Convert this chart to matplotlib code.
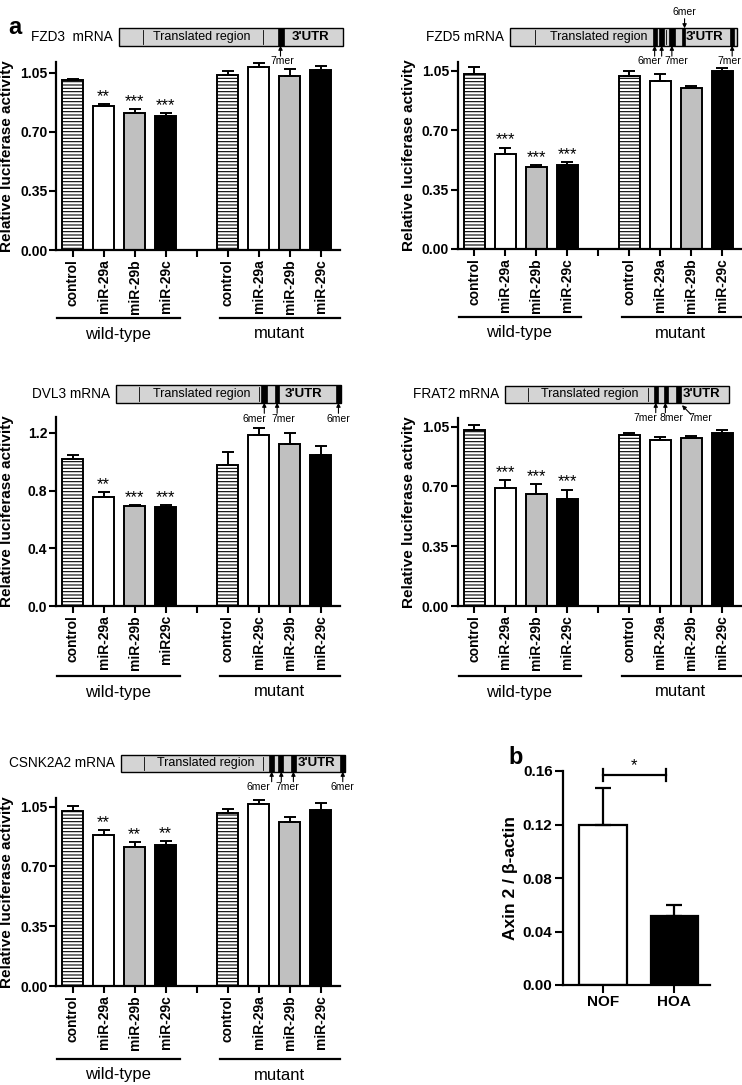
import numpy as np
import matplotlib
matplotlib.use('Agg')
import matplotlib.pyplot as plt
from matplotlib.patches import Rectangle

plt.rcParams['font.family'] = ['Liberation Sans', 'DejaVu Sans']
plt.rcParams['hatch.linewidth'] = 0.8

# --- data ---
labels_std = ['control', 'miR-29a', 'miR-29b', 'miR-29c', '',
              'control', 'miR-29a', 'miR-29b', 'miR-29c']
labels_dvl3 = ['control', 'miR-29a', 'miR-29b', 'miR29c', '',
               'control', 'miR-29c', 'miR-29b', 'miR-29c']
positions = [0, 1, 2, 3, 5, 6, 7, 8]

fzd3_mean = [1.010, 0.855, 0.815, 0.795, 1.035, 1.087, 1.030, 1.068]
fzd3_err = [0.005, 0.013, 0.020, 0.015, 0.028, 0.024, 0.044, 0.023]
fzd3_stars = ['', '**', '***', '***', '', '', '', '']

fzd5_mean = [1.030, 0.560, 0.482, 0.496, 1.015, 0.990, 0.945, 1.045]
fzd5_err = [0.040, 0.037, 0.010, 0.013, 0.032, 0.037, 0.012, 0.017]
fzd5_stars = ['', '***', '***', '***', '', '', '', '']

dvl3_mean = [1.017, 0.754, 0.694, 0.687, 0.980, 1.182, 1.126, 1.045]
dvl3_err = [0.033, 0.037, 0.007, 0.013, 0.090, 0.050, 0.072, 0.065]
dvl3_stars = ['', '**', '***', '***', '', '', '', '']

frat2_mean = [1.028, 0.689, 0.656, 0.626, 1.003, 0.971, 0.985, 1.010]
frat2_err = [0.030, 0.050, 0.055, 0.055, 0.010, 0.016, 0.010, 0.018]
frat2_stars = ['', '***', '***', '***', '', '', '', '']

csnk_mean = [1.026, 0.882, 0.815, 0.823, 1.015, 1.064, 0.962, 1.030]
csnk_err = [0.030, 0.030, 0.028, 0.024, 0.021, 0.023, 0.029, 0.040]
csnk_stars = ['', '**', '**', '**', '', '', '', '']

axin_groups = ['NOF', 'HOA']
axin_mean = [0.120, 0.0515]
axin_err = [0.0274, 0.0082]
sig_pair = (0.0, 0.88)
sig_y = 0.157

fills = ['white', 'white', '#c0c0c0', 'black'] * 2
hatches = ['-----', '', '', ''] * 2

W, H = 742, 1085
fig = plt.figure(figsize=(W / 100, H / 100), dpi=100)


def px_axes(left, top, width, height):
    return fig.add_axes([left / W, 1 - (top + height) / H, width / W, height / H])


def style_axes(ax):
    for s in ['top', 'right']:
        ax.spines[s].set_visible(False)
    for s in ['left', 'bottom']:
        ax.spines[s].set_linewidth(1.6)
    ax.tick_params(width=1.5, length=5, pad=1.5, direction='out')


def bar_panel(rect, labels, means, errs, stars, ymax, yticks, yfmt, line_off):
    ax = px_axes(*rect)
    height = rect[3]
    bars = ax.bar(positions, means, width=0.67, color=fills, edgecolor='black', linewidth=1.4)
    for b, h in zip(bars, hatches):
        b.set_hatch(h)
    ax.errorbar(positions, means, yerr=[np.zeros(len(errs)), errs], fmt='none',
                ecolor='black', elinewidth=1.4, capsize=4.5, capthick=1.4)
    for p, m, e, s in zip(positions, means, errs, stars):
        if s:
            ax.annotate(s, (p, m + e), xytext=(0, 0), textcoords='offset points',
                        ha='center', va='bottom', fontsize=12)
    style_axes(ax)
    ax.set_xlim(-0.52, 8.6)
    ax.set_ylim(0, ymax)
    ax.set_yticks(yticks)
    ax.set_yticklabels([yfmt % v for v in yticks], fontweight='bold', fontsize=10)
    ax.set_xticks(range(9))
    ax.set_xticklabels(labels, rotation=90, fontweight='bold', fontsize=10)
    ax.set_ylabel('Relative luciferase activity', fontweight='bold', fontsize=11)
    ax.yaxis.set_label_coords(-42 / rect[2], 0.5)
    ly = -line_off / height
    ty = -(line_off + 16) / height
    tr = ax.get_xaxis_transform()
    ax.plot([-0.5, 3.45], [ly, ly], color='black', lw=1.6, transform=tr, clip_on=False)
    ax.plot([4.75, 8.6], [ly, ly], color='black', lw=1.6, transform=tr, clip_on=False)
    ax.text(1.45, ty, 'wild-type', ha='center', va='center', fontsize=12, transform=tr)
    ax.text(6.65, ty, 'mutant', ha='center', va='center', fontsize=12, transform=tr)
    return ax


def draw_mrna(box, name, thin, sites, ups, site_labels, trans_x, utr_x,
              down=None, slant=None):
    left, top, right, bottom = box
    ax = px_axes(left, top, right - left, bottom - top)
    ax.set_xlim(0, 1)
    ax.set_ylim(0, 1)
    ax.axis('off')
    ax.add_patch(Rectangle((0, 0), 1, 1, facecolor='#d4d4d4', edgecolor='black',
                           lw=1.0, clip_on=False))
    for t in thin:
        ax.plot([t, t], [0.12, 0.88], color='black', lw=0.6)
    for a, b in sites:
        ax.add_patch(Rectangle((a, 0), b - a, 1, facecolor='black', edgecolor='black',
                               lw=0.5, clip_on=False))
    ax.text(trans_x, 0.5, 'Translated region', ha='center', va='center', fontsize=9)
    ax.text(utr_x, 0.5, "3'UTR", ha='center', va='center', fontsize=9.5,
            fontweight='bold')
    arrow = dict(arrowstyle='-|>', lw=0.8, color='black', mutation_scale=6,
                 shrinkA=0, shrinkB=0)
    for u in ups:
        ax.annotate('', xy=(u, 0), xytext=(u, -0.6), arrowprops=arrow,
                    annotation_clip=False)
    for x, t in site_labels:
        ax.text(x, -0.9, t, ha='center', va='center', fontsize=7.5)
    if down is not None:
        ax.annotate('', xy=(down, 1.0), xytext=(down, 1.55), arrowprops=arrow,
                    annotation_clip=False)
        ax.text(down, 1.95, '6mer', ha='center', va='center', fontsize=7.5)
    if slant is not None:
        ax.annotate('', xy=slant[1], xytext=slant[0], arrowprops=arrow,
                    annotation_clip=False)
    fig.text((left - 6) / W, 1 - (top + bottom) / 2 / H, name, ha='right',
             va='center', fontsize=9.8)


# --- panel a: luciferase bar charts ---
bar_panel((56.5, 62, 283, 188), labels_std, fzd3_mean, fzd3_err, fzd3_stars,
          1.115, [0, 0.35, 0.70, 1.05], '%.2f', 68)
bar_panel((458, 62, 283, 187), labels_std, fzd5_mean, fzd5_err, fzd5_stars,
          1.10, [0, 0.35, 0.70, 1.05], '%.2f', 68)
bar_panel((56.5, 417, 283, 189), labels_dvl3, dvl3_mean, dvl3_err, dvl3_stars,
          1.31, [0, 0.4, 0.8, 1.2], '%.1f', 70)
bar_panel((458, 418, 283, 188), labels_std, frat2_mean, frat2_err, frat2_stars,
          1.10, [0, 0.35, 0.70, 1.05], '%.2f', 70)
bar_panel((56.5, 798, 283, 188), labels_std, csnk_mean, csnk_err, csnk_stars,
          1.10, [0, 0.35, 0.70, 1.05], '%.2f', 73)

# --- mRNA schematics ---
draw_mrna((119, 28.3, 343.3, 45.7), 'FZD3  mRNA', [0.108, 0.644], [(0.71, 0.737)],
          [0.72], [(0.73, '7mer')], 0.369, 0.853)
draw_mrna((510, 28.3, 736.7, 45.7), 'FZD5 mRNA', [0.11, 0.69],
          [(0.63, 0.65), (0.659, 0.68), (0.703, 0.728), (0.757, 0.772), (0.97, 0.99)],
          [0.638, 0.669, 0.714, 0.98], [(0.613, '6mer'), (0.735, '7mer'), (0.969, '7mer')],
          0.39, 0.86, down=0.77)
draw_mrna((116, 385, 340.7, 402.7), 'DVL3 mRNA', [0.104, 0.638],
          [(0.647, 0.67), (0.708, 0.727), (0.979, 1.0)],
          [0.66, 0.717, 0.99], [(0.614, '6mer'), (0.743, '7mer'), (0.99, '6mer')],
          0.38, 0.834)
draw_mrna((505, 386, 729, 402.7), 'FRAT2 mRNA', [0.104, 0.64],
          [(0.665, 0.685), (0.71, 0.726), (0.763, 0.784)],
          [0.673, 0.716], [(0.625, '7mer'), (0.744, '8mer'), (0.871, '7mer')],
          0.38, 0.878, slant=((0.83, -0.7), (0.79, -0.15)))
draw_mrna((120.7, 755, 345, 771.7), 'CSNK2A2 mRNA', [0.104, 0.636],
          [(0.662, 0.684), (0.703, 0.725), (0.759, 0.782), (0.978, 1.0)],
          [0.673, 0.716, 0.77, 0.99], [(0.612, '6mer'), (0.745, '7mer'), (0.989, '6mer')],
          0.38, 0.874)

# --- panel b: Axin2 expression ---
axb = px_axes(563, 771, 147, 214)
axb.bar([0, 1], axin_mean, width=0.66, color=['white', 'black'], edgecolor='black',
        linewidth=1.6)
axb.errorbar([0, 1], axin_mean, yerr=[[0, 0], axin_err], fmt='none', ecolor='black',
             elinewidth=1.6, capsize=6, capthick=1.6)
style_axes(axb)
axb.tick_params(length=6)
axb.set_xlim(-0.56, 1.5)
axb.set_ylim(0, 0.16)
axb.set_yticks([0, 0.04, 0.08, 0.12, 0.16])
axb.set_yticklabels(['%.2f' % v for v in [0, 0.04, 0.08, 0.12, 0.16]],
                    fontweight='bold', fontsize=11)
axb.set_xticks([0, 1])
axb.set_xticklabels(axin_groups, fontweight='bold', fontsize=11)
axb.set_ylabel('Axin 2 / β-actin', fontweight='bold', fontsize=12.5)
axb.yaxis.set_label_coords(-45 / 147, 0.5)
axb.plot(sig_pair, [sig_y, sig_y], color='black', lw=1.6, clip_on=False)
for sx in sig_pair:
    axb.plot([sx, sx], [sig_y - 0.0043, sig_y + 0.0043], color='black', lw=1.6,
             clip_on=False)
axb.annotate('*', (np.mean(sig_pair), sig_y), xytext=(0, 1), textcoords='offset points',
             ha='center', va='bottom', fontsize=12, annotation_clip=False)

fig.text(8 / W, 1 - 27 / H, 'a', fontsize=17, fontweight='bold', va='center')
fig.text(508 / W, 1 - 758 / H, 'b', fontsize=17, fontweight='bold', va='center')

fig.savefig('out.png', dpi=100)
